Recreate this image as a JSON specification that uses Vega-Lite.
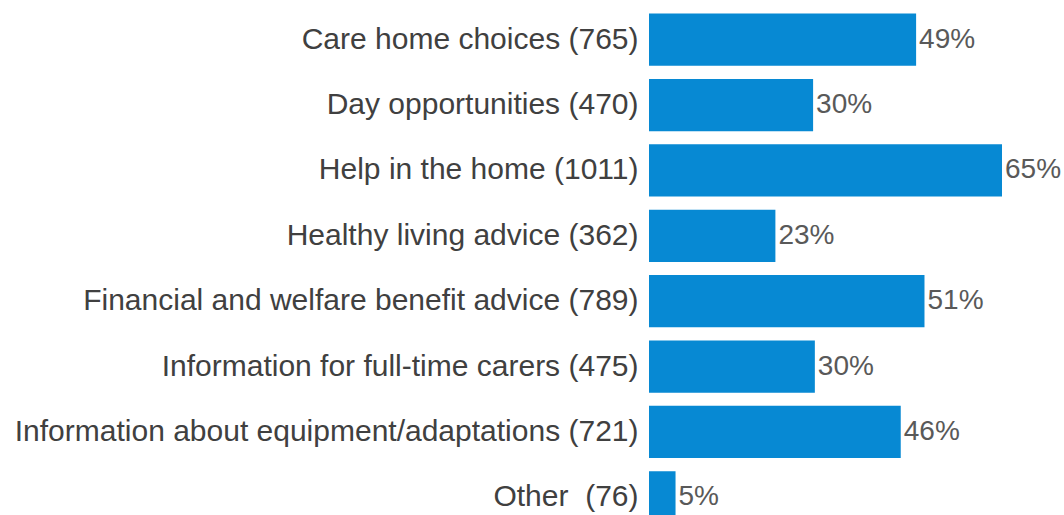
{
  "$schema": "https://vega.github.io/schema/vega-lite/v6.json",
  "autosize": "none",
  "width": 353,
  "height": 523,
  "padding": {"left": 649, "top": 7, "right": 62, "bottom": 0},
  "background": "white",
  "config": {
    "view": {"stroke": null},
    "font": "Liberation Sans"
  },
  "data": {
    "values": [
      {"service": "Care home choices (765)", "count": 765, "pct": "49%"},
      {"service": "Day opportunities (470)", "count": 470, "pct": "30%"},
      {"service": "Help in the home (1011)", "count": 1011, "pct": "65%"},
      {"service": "Healthy living advice (362)", "count": 362, "pct": "23%"},
      {"service": "Financial and welfare benefit advice (789)", "count": 789, "pct": "51%"},
      {"service": "Information for full-time carers (475)", "count": 475, "pct": "30%"},
      {"service": "Information about equipment/adaptations (721)", "count": 721, "pct": "46%"},
      {"service": "Other\u00a0 (76)", "count": 76, "pct": "5%"}
    ]
  },
  "encoding": {
    "y": {
      "field": "service",
      "type": "nominal",
      "sort": null,
      "scale": {"paddingInner": 0.2, "paddingOuter": 0.1},
      "axis": {
        "title": null,
        "ticks": false,
        "domain": false,
        "labelPadding": 11,
        "labelFontSize": 30,
        "labelColor": "#404040",
        "labelLimit": 0
      }
    },
    "x": {
      "field": "count",
      "type": "quantitative",
      "scale": {"domain": [0, 1011], "nice": false, "zero": true},
      "axis": null
    }
  },
  "layer": [
    {"mark": {"type": "bar", "color": "#0789d3"}},
    {
      "mark": {"type": "text", "align": "left", "baseline": "middle", "dx": 3, "fontSize": 28, "color": "#595959"},
      "encoding": {"text": {"field": "pct"}}
    }
  ]
}
